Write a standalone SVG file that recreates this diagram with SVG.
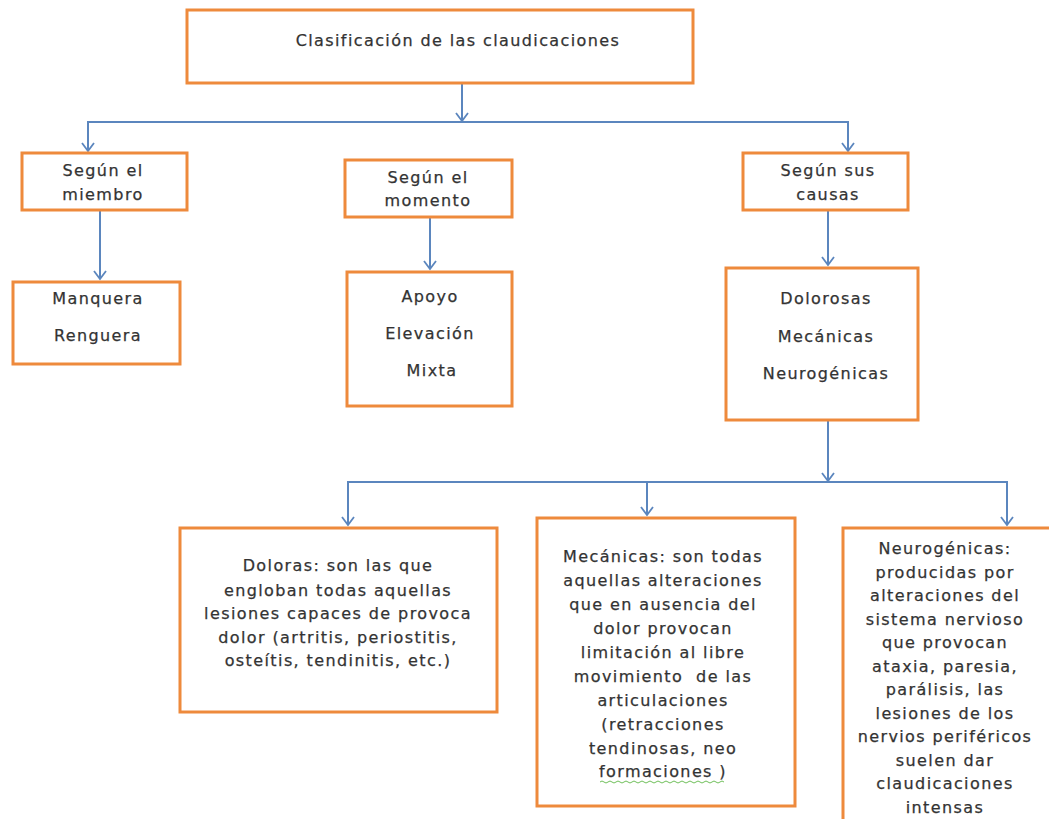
<svg xmlns="http://www.w3.org/2000/svg" width="1049" height="819" viewBox="0 0 1049 819">
<defs>
<marker id="arr" markerWidth="12" markerHeight="14" refX="10" refY="7" orient="auto" markerUnits="userSpaceOnUse" viewBox="0 0 12 14">
<polyline points="2,1 10,7 2,13" fill="none" stroke="#5B86BE" stroke-width="1.8"/>
</marker>
<style>
.box{fill:#fff;stroke:#EE8A3C;stroke-width:3}
.t{font-family:"DejaVu Sans","Open Sans",sans-serif;font-size:16px;letter-spacing:1.4px;fill:#333;stroke:#333;stroke-width:0.25;text-anchor:middle}
.c{fill:none;stroke:#5B86BE;stroke-width:2}
</style>
</defs>
<rect width="1049" height="819" fill="#fff"/>
<g id="connectors">
<line class="c" x1="462" y1="83" x2="462" y2="121" marker-end="url(#arr)"/>
<polyline class="c" points="88,151 88,122 848,122 848,151"/>
<line class="c" x1="88" y1="140" x2="88" y2="151" marker-end="url(#arr)"/>
<line class="c" x1="848" y1="140" x2="848" y2="151" marker-end="url(#arr)"/>
<line class="c" x1="100" y1="210" x2="100" y2="279" marker-end="url(#arr)"/>
<line class="c" x1="430" y1="217" x2="430" y2="269" marker-end="url(#arr)"/>
<line class="c" x1="828" y1="210" x2="828" y2="265" marker-end="url(#arr)"/>
<line class="c" x1="828" y1="420" x2="828" y2="481" marker-end="url(#arr)"/>
<polyline class="c" points="348,525 348,482 1007,482 1007,525"/>
<line class="c" x1="348" y1="510" x2="348" y2="525" marker-end="url(#arr)"/>
<line class="c" x1="1007" y1="510" x2="1007" y2="525" marker-end="url(#arr)"/>
<line class="c" x1="647" y1="482" x2="647" y2="515" marker-end="url(#arr)"/>
</g>
<g id="n-root">
<rect class="box" x="187" y="10" width="506" height="73"/>
<text class="t" x="458" y="46">Clasificación de las claudicaciones</text>
</g>
<g id="n-miembro">
<rect class="box" x="22" y="153" width="165" height="57"/>
<text class="t" x="103" y="176">Según el</text>
<text class="t" x="103" y="200">miembro</text>
</g>
<g id="n-momento">
<rect class="box" x="345" y="160" width="167" height="57"/>
<text class="t" x="428" y="183">Según el</text>
<text class="t" x="428" y="206">momento</text>
</g>
<g id="n-causas">
<rect class="box" x="743" y="153" width="165" height="57"/>
<text class="t" x="828" y="176">Según sus</text>
<text class="t" x="828" y="200">causas</text>
</g>
<g id="n-manquera">
<rect class="box" x="13" y="282" width="167" height="82"/>
<text class="t" x="98" y="304">Manquera</text>
<text class="t" x="98" y="341">Renguera</text>
</g>
<g id="n-apoyo">
<rect class="box" x="347" y="272" width="165" height="134"/>
<text class="t" x="430" y="302">Apoyo</text>
<text class="t" x="430" y="339">Elevación</text>
<text class="t" x="432" y="376">Mixta</text>
</g>
<g id="n-tipos">
<rect class="box" x="726" y="268" width="192" height="152"/>
<text class="t" x="826" y="304">Dolorosas</text>
<text class="t" x="826" y="342">Mecánicas</text>
<text class="t" x="826" y="379">Neurogénicas</text>
</g>
<g id="n-doloras">
<rect class="box" x="180" y="528" width="317" height="184"/>
<text class="t" x="338" y="571">Doloras: son las que</text>
<text class="t" x="338" y="596">engloban todas aquellas</text>
<text class="t" x="338" y="619">lesiones capaces de provoca</text>
<text class="t" x="338" y="643">dolor (artritis, periostitis,</text>
<text class="t" x="338" y="666">osteítis, tendinitis, etc.)</text>
</g>
<g id="n-mecanicas">
<rect class="box" x="537" y="518" width="258" height="288"/>
<text class="t" x="663" y="562">Mecánicas: son todas</text>
<text class="t" x="663" y="586">aquellas alteraciones</text>
<text class="t" x="663" y="610">que en ausencia del</text>
<text class="t" x="663" y="634">dolor provocan</text>
<text class="t" x="663" y="658">limitación al libre</text>
<text class="t" x="663" y="682" xml:space="preserve">movimiento  de las</text>
<text class="t" x="663" y="706">articulaciones</text>
<text class="t" x="663" y="730">(retracciones</text>
<text class="t" x="663" y="754">tendinosas, neo</text>
<text class="t" x="663" y="777">formaciones )</text>
<path d="M600,782 q2,-2 4,0 t4,0 t4,0 t4,0 t4,0 t4,0 t4,0 t4,0 t4,0 t4,0 t4,0 t4,0 t4,0 t4,0 t4,0 t4,0 t4,0 t4,0 t4,0 t4,0 t4,0 t4,0 t4,0 t4,0 t4,0 t4,0 t4,0 t4,0 t4,0 t4,0 t4,0" fill="none" stroke="#6fbf5a" stroke-width="1"/>
</g>
<g id="n-neuro">
<rect class="box" x="843" y="528" width="220" height="300"/>
<text class="t" x="945" y="554">Neurogénicas:</text>
<text class="t" x="945" y="578">producidas por</text>
<text class="t" x="945" y="601">alteraciones del</text>
<text class="t" x="945" y="625">sistema nervioso</text>
<text class="t" x="945" y="648">que provocan</text>
<text class="t" x="945" y="672">ataxia, paresia,</text>
<text class="t" x="945" y="695">parálisis, las</text>
<text class="t" x="945" y="719">lesiones de los</text>
<text class="t" x="945" y="742" letter-spacing="0.6">nervios periféricos</text>
<text class="t" x="945" y="766">suelen dar</text>
<text class="t" x="945" y="789">claudicaciones</text>
<text class="t" x="945" y="813">intensas</text>
</g>
</svg>
